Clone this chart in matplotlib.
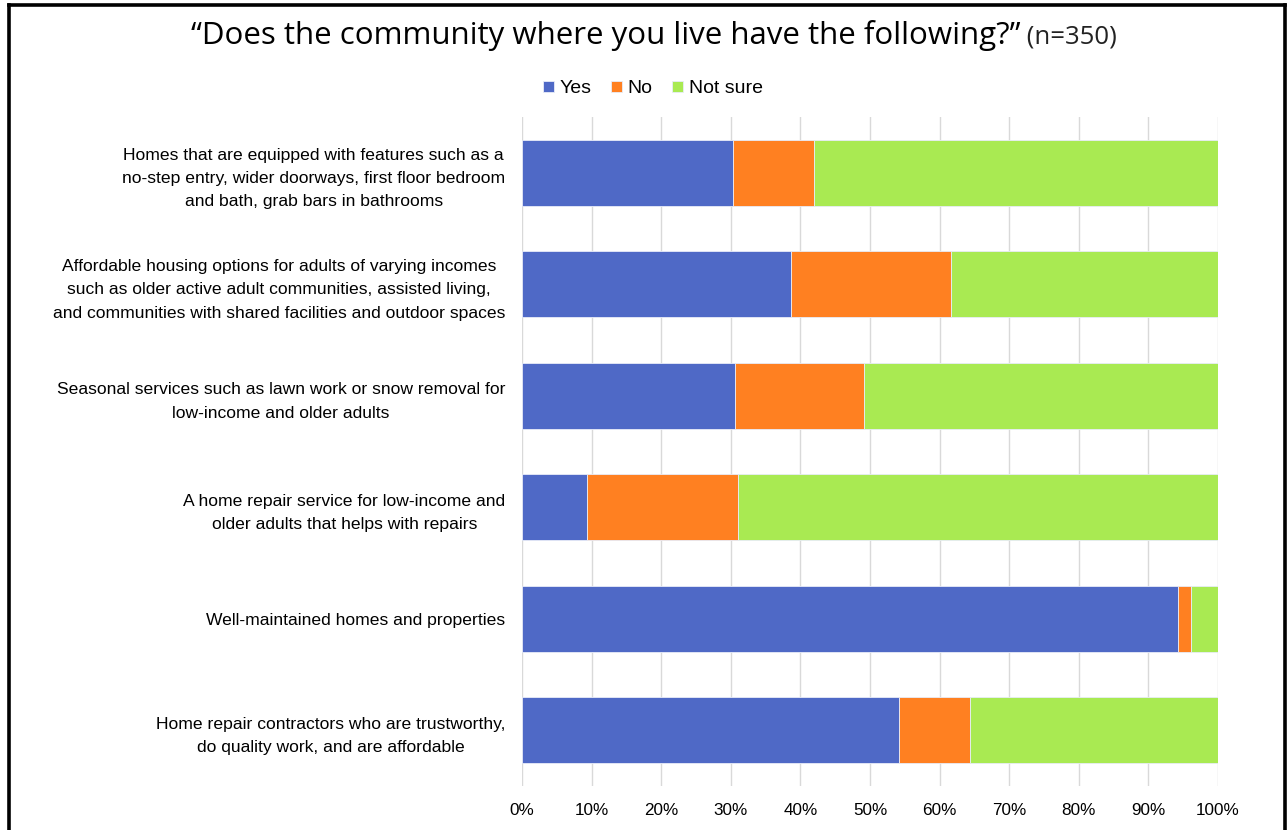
import matplotlib
matplotlib.use("Agg")
import matplotlib.pyplot as plt
from matplotlib.ticker import PercentFormatter, MultipleLocator
from matplotlib.lines import Line2D

categories = [
    "Homes that are equipped with features such as a\nno-step entry, wider doorways, first floor bedroom\nand bath, grab bars in bathrooms",
    "Affordable housing options for adults of varying incomes\nsuch as older active adult communities, assisted living,\nand communities with shared facilities and outdoor spaces",
    "Seasonal services such as lawn work or snow removal for\nlow-income and older adults",
    "A home repair service for low-income and\nolder adults that helps with repairs",
    "Well-maintained homes and properties",
    "Home repair contractors who are trustworthy,\ndo quality work, and are affordable",
]
yes = [30.3, 38.6, 30.6, 9.4, 94.2, 54.1]
no = [11.6, 23.0, 18.6, 21.6, 1.9, 10.2]
not_sure = [58.1, 38.4, 50.8, 69.0, 3.9, 35.7]

series_names = ["Yes", "No", "Not sure"]
colors = ["#4F69C6", "#FF8021", "#A9EA52"]

fig = plt.figure(figsize=(12.88, 8.30), dpi=100)
ax = fig.add_axes([0.4053, 0.053, 0.5404, 0.806])

pos = list(range(len(categories)))
left = [0.0] * len(categories)
for name, vals, col in zip(series_names, [yes, no, not_sure], colors):
    ax.barh(pos, vals, left=left, height=0.59, color=col, label=name,
            edgecolor="#E8ECF8", linewidth=0.6, zorder=3)
    left = [l + v for l, v in zip(left, vals)]

ax.set_xlim(0, 100)
ax.set_ylim(len(categories) - 0.5, -0.5)
ax.xaxis.set_major_locator(MultipleLocator(10))
ax.xaxis.set_major_formatter(PercentFormatter(decimals=0))
ax.grid(axis="x", color="#D9D9D9", linewidth=1.0, zorder=0)
for s in ax.spines.values():
    s.set_visible(False)
ax.tick_params(axis="both", length=0)
ax.tick_params(axis="x", pad=12, labelsize=12.3)
ax.tick_params(axis="y", pad=12)
ax.set_yticks(pos)
ax.set_yticklabels(categories, fontsize=12.6, family="Liberation Sans",
                   multialignment="center", linespacing=1.7)
for t in ax.get_xticklabels():
    t.set_family("Liberation Sans")

# Title with a lighter sample-size note
ty = 0.957
t1 = fig.text(0.5, ty, "\u201cDoes the community where you live have the following?\u201d",
              ha="right", va="center", fontsize=22.5, family="Open Sans")
note = fig.text(0.5, ty - 0.002, " (n=350)", ha="left", va="center", fontsize=18.5,
                family="Open Sans", color="#222222")
fig.canvas.draw()
r = fig.canvas.get_renderer()
full_w = t1.get_window_extent(renderer=r).width
total = full_w + note.get_window_extent(renderer=r).width
x0 = (fig.bbox.width - total) / 2 + 10
xs = (x0 + full_w) / fig.bbox.width
t1.set_x(xs)
note.set_x(xs)

leg = fig.legend(loc="center", bbox_to_anchor=(0.507, 0.893), ncol=3,
                 frameon=False, handlelength=0.55, handleheight=0.55,
                 handletextpad=0.3, columnspacing=1.0,
                 prop={"family": "Liberation Sans", "size": 14})

# Frame around the chart
for xy in [((0.0067, 0.0067), (0.0, 0.9940)),
           ((0.0067, 0.9975), (0.9940, 0.9940)),
           ((0.9975, 0.9975), (0.9940, 0.0))]:
    fig.add_artist(Line2D(xy[0], xy[1], color="black", linewidth=2.6,
                          transform=fig.transFigure))

fig.savefig("out.png", dpi=100, facecolor="white")
